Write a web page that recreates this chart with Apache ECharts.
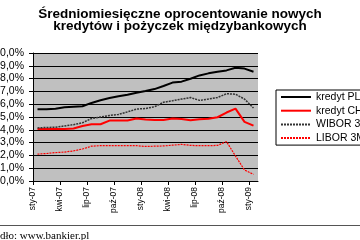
<!DOCTYPE html>
<html>
<head>
<meta charset="utf-8">
<script src="https://cdn.jsdelivr.net/npm/echarts@6/dist/echarts.min.js"></script>
<style>
  html, body { margin: 0; padding: 0; background: #fff; }
  #chart { width: 360px; height: 240px; }
</style>
</head>
<body>
<div id="chart"></div>
<script>
// miesiące z danymi (sty-07 .. sty-09)
const months = ["sty-07", "lut-07", "mar-07", "kwi-07", "maj-07", "cze-07", "lip-07", "sie-07", "wrz-07",
  "paź-07", "lis-07", "gru-07", "sty-08", "lut-08", "mar-08", "kwi-08", "maj-08", "cze-08", "lip-08",
  "sie-08", "wrz-08", "paź-08", "lis-08", "gru-08", "sty-09"];
// etykiety osi (co 3 miesiące, oś na granicach miesięcy)
const tickLabels = ["sty-07", "", "", "kwi-07", "", "", "lip-07", "", "", "paź-07", "", "",
  "sty-08", "", "", "kwi-08", "", "", "lip-08", "", "", "paź-08", "", "", "sty-09", ""];
const seriesNames = ["kredyt PLN", "kredyt CHF", "WIBOR 3M", "LIBOR 3M"];
// wartości w %
const kredytPLN = [5.60, 5.60, 5.65, 5.76, 5.80, 5.84, 6.10, 6.31, 6.48, 6.62, 6.74, 6.89, 7.03,
  7.18, 7.42, 7.69, 7.76, 7.99, 8.25, 8.41, 8.53, 8.64, 8.85, 8.78, 8.54];
const kredytCHF = [4.06, 4.06, 4.06, 4.06, 4.10, 4.30, 4.43, 4.43, 4.72, 4.72, 4.72, 4.88, 4.80,
  4.77, 4.77, 4.88, 4.85, 4.75, 4.82, 4.86, 4.98, 5.35, 5.65, 4.62, 4.32];
const wibor3M = [4.15, 4.18, 4.20, 4.30, 4.40, 4.55, 4.88, 5.00, 5.12, 5.20, 5.40, 5.62, 5.66,
  5.80, 6.15, 6.27, 6.40, 6.52, 6.30, 6.40, 6.52, 6.82, 6.78, 6.40, 5.70];
const libor3M = [2.10, 2.15, 2.22, 2.26, 2.35, 2.50, 2.72, 2.76, 2.76, 2.76, 2.76, 2.76, 2.70,
  2.72, 2.74, 2.80, 2.86, 2.78, 2.76, 2.76, 2.78, 3.08, 1.95, 0.86, 0.52];

const myChart = echarts.init(document.getElementById("chart"));
const font = "Liberation Sans, Arial, sans-serif";

function lineSeries(name, data, color, type, width) {
  return {
    name: name,
    type: "line",
    xAxisIndex: 0,
    data: data,
    symbol: "none",
    animation: false,
    lineStyle: { color: color, width: width, type: type },
    itemStyle: { color: color }
  };
}

const option = {
  animation: false,
  backgroundColor: "#fff",
  title: {
    text: "Średniomiesięczne oprocentowanie nowych\nkredytów i pożyczek międzybankowych",
    left: "center",
    top: 3,
    textStyle: { fontFamily: font, fontSize: 13.5, fontWeight: "bold", lineHeight: 12, color: "#000" }
  },
  legend: {
    orient: "vertical",
    left: 276,
    top: 90,
    padding: [1, 6, 1, 4],
    itemGap: 1.7,
    itemWidth: 30,
    itemHeight: 6,
    backgroundColor: "#fff",
    borderColor: "#000",
    borderWidth: 1,
    itemStyle: { opacity: 0 },
    data: seriesNames,
    textStyle: { fontFamily: font, fontSize: 10.5, lineHeight: 12, color: "#000" }
  },
  grid: {
    left: 33, right: 102, top: 53, bottom: 59,
    outerBoundsMode: "none",
    containLabel: false,
    show: true, backgroundColor: "#c0c0c0", borderWidth: 0
  },
  xAxis: [
    {
      type: "category",
      data: months,
      boundaryGap: true,
      show: false
    },
    {
      type: "category",
      data: tickLabels,
      boundaryGap: false,
      position: "bottom",
      axisLine: { show: true, lineStyle: { color: "#000", width: 1 } },
      axisTick: { show: true, length: 4, interval: (i) => i % 3 === 0, lineStyle: { color: "#000" } },
      axisLabel: {
        interval: (i) => i % 3 === 0,
        rotate: 90,
        margin: 6,
        hideOverlap: false,
        fontFamily: font,
        fontSize: 8.5,
        color: "#000"
      },
      splitLine: { show: false }
    }
  ],
  yAxis: {
    type: "value",
    min: 0,
    max: 10,
    interval: 1,
    axisLine: { show: true, lineStyle: { color: "#000", width: 1 } },
    axisTick: { show: true, length: 4, lineStyle: { color: "#000" } },
    axisLabel: {
      margin: 9,
      fontFamily: font,
      fontSize: 10.5,
      color: "#000",
      formatter: (v) => v.toFixed(1).replace(".", ",") + "%"
    },
    splitLine: { show: true, lineStyle: { color: "#000", width: 1 } }
  },
  series: [
    lineSeries(seriesNames[0], kredytPLN, "#000", "solid", 2),
    lineSeries(seriesNames[1], kredytCHF, "#ff0000", "solid", 2),
    lineSeries(seriesNames[2], wibor3M, "#333", [2, 1], 1.5),
    lineSeries(seriesNames[3], libor3M, "#ff0000", [2, 1], 1.2)
  ],
  graphic: [
    {
      type: "line",
      shape: { x1: 0, y1: 225.5, x2: 360, y2: 225.5 },
      style: { stroke: "#555", lineWidth: 1 }
    },
    {
      type: "text",
      x: -16,
      y: 236,
      style: {
        text: "Źródło: www.bankier.pl",
        font: "11px 'Liberation Serif', 'Times New Roman', serif",
        fill: "#000",
        verticalAlign: "middle"
      }
    }
  ]
};

myChart.setOption(option);
</script>
</body>
</html>
